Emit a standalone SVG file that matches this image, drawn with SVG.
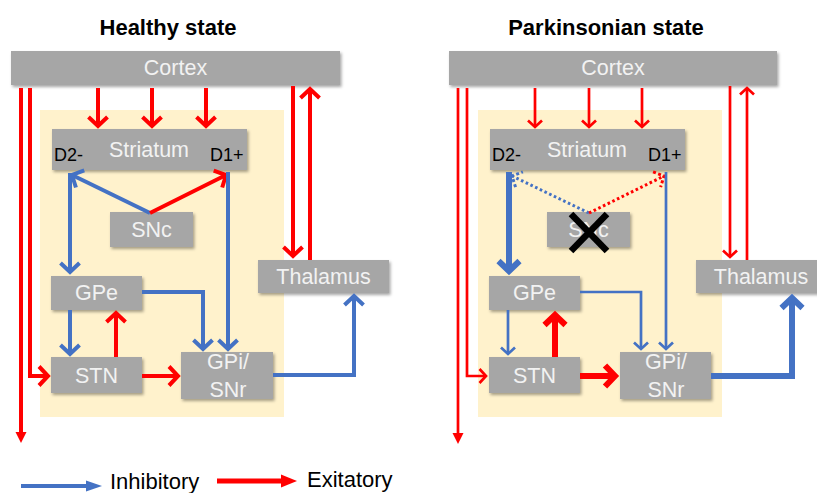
<svg xmlns="http://www.w3.org/2000/svg" width="817" height="493" viewBox="0 0 817 493">
<style>
.bg{fill:#FFF2CC}
.box{fill:#A6A6A6;filter:url(#sh)}
.lbl{font-family:"Liberation Sans",Arial,sans-serif;font-size:21.5px;fill:#F2F2F2;text-anchor:middle}
.dl{font-family:"Liberation Sans",Arial,sans-serif;font-size:18px;fill:#000}
.title{font-family:"Liberation Sans",Arial,sans-serif;font-size:22px;font-weight:bold;fill:#000;text-anchor:middle}
.leg{font-family:"Liberation Sans",Arial,sans-serif;font-size:22px;fill:#000}
.r{fill:none;stroke:#FF0000}
.b{fill:none;stroke:#4472C4}
.w4{stroke-width:4}
.w3{stroke-width:2.7}
.w6{stroke-width:6}
.dot{stroke-width:3;stroke-dasharray:2.6 2.6}
</style>
<defs>
<filter id="sh" x="-10%" y="-10%" width="130%" height="140%">
<feDropShadow dx="1.5" dy="2" stdDeviation="1.5" flood-color="#000" flood-opacity="0.35"/>
</filter>
<marker id="rm" markerUnits="userSpaceOnUse" orient="auto" overflow="visible" markerWidth="1" markerHeight="1"><path d="M-9,-9.5 L0,0 L-9,9.5" fill="none" stroke="#FF0000" stroke-width="4"/></marker>
<marker id="bm" markerUnits="userSpaceOnUse" orient="auto" overflow="visible" markerWidth="1" markerHeight="1"><path d="M-9,-9.5 L0,0 L-9,9.5" fill="none" stroke="#4472C4" stroke-width="4"/></marker>
<marker id="rs" markerUnits="userSpaceOnUse" orient="auto" overflow="visible" markerWidth="1" markerHeight="1"><path d="M-6.5,-7 L0,0 L-6.5,7" fill="none" stroke="#FF0000" stroke-width="2.7"/></marker>
<marker id="bs" markerUnits="userSpaceOnUse" orient="auto" overflow="visible" markerWidth="1" markerHeight="1"><path d="M-6.5,-7 L0,0 L-6.5,7" fill="none" stroke="#4472C4" stroke-width="2.7"/></marker>
<marker id="rl" markerUnits="userSpaceOnUse" orient="auto" overflow="visible" markerWidth="1" markerHeight="1"><path d="M-10,-10.5 L0,0 L-10,10.5" fill="none" stroke="#FF0000" stroke-width="6"/></marker>
<marker id="bl" markerUnits="userSpaceOnUse" orient="auto" overflow="visible" markerWidth="1" markerHeight="1"><path d="M-10,-10.5 L0,0 L-10,10.5" fill="none" stroke="#4472C4" stroke-width="6"/></marker>
<marker id="rd" markerUnits="userSpaceOnUse" orient="auto" overflow="visible" markerWidth="1" markerHeight="1"><path d="M-8,-8.5 L0,0 L-8,8.5" fill="none" stroke="#FF0000" stroke-width="3" stroke-dasharray="3 2.4"/></marker>
<marker id="bd" markerUnits="userSpaceOnUse" orient="auto" overflow="visible" markerWidth="1" markerHeight="1"><path d="M-8,-8.5 L0,0 L-8,8.5" fill="none" stroke="#4472C4" stroke-width="3" stroke-dasharray="3 2.4"/></marker>
<marker id="rt" markerUnits="userSpaceOnUse" orient="auto" overflow="visible" markerWidth="1" markerHeight="1"><path d="M-4,-5.5 L7,0 L-4,5.5 Z" fill="#FF0000"/></marker>
<marker id="rt2" markerUnits="userSpaceOnUse" orient="auto" overflow="visible" markerWidth="1" markerHeight="1"><path d="M-4,-6.5 L12,0 L-4,6.5 Z" fill="#FF0000"/></marker>
<marker id="bt2" markerUnits="userSpaceOnUse" orient="auto" overflow="visible" markerWidth="1" markerHeight="1"><path d="M-4,-5.5 L12,0 L-4,5.5 Z" fill="#4472C4"/></marker>
</defs>
<rect width="817" height="493" fill="#FFFFFF"/>

<text class="title" x="168" y="35">Healthy state</text>
<text class="title" x="606" y="35">Parkinsonian state</text>

<rect class="bg" x="40" y="110" width="244" height="307"/>
<rect class="bg" x="478" y="110" width="244" height="307"/>

<!-- Healthy nodes -->
<g id="h-cortex"><rect class="box" x="11" y="51" width="329" height="34"/><text class="lbl" x="175.5" y="75">Cortex</text></g>
<g id="h-striatum"><rect class="box" x="52" y="129" width="195" height="41"/><text class="lbl" x="149" y="157">Striatum</text><text class="dl" x="54" y="161">D2-</text><text class="dl" x="210" y="161">D1+</text></g>
<g id="h-snc"><rect class="box" x="110" y="212" width="83" height="35"/><text class="lbl" x="151.5" y="237">SNc</text></g>
<g id="h-thalamus"><rect class="box" x="258" y="260" width="131" height="33"/><text class="lbl" x="323.5" y="284">Thalamus</text></g>
<g id="h-gpe"><rect class="box" x="51" y="276" width="91" height="34"/><text class="lbl" x="96.5" y="300">GPe</text></g>
<g id="h-stn"><rect class="box" x="51" y="357" width="91" height="36"/><text class="lbl" x="96.5" y="383">STN</text></g>
<g id="h-gpi"><rect class="box" x="181" y="352" width="92" height="47"/><text class="lbl" x="228" y="369">GPi/</text><text class="lbl" x="228" y="397">SNr</text></g>

<!-- Parkinsonian nodes -->
<g id="p-cortex"><rect class="box" x="449" y="51" width="328" height="34"/><text class="lbl" x="613" y="75">Cortex</text></g>
<g id="p-striatum"><rect class="box" x="490" y="129" width="195" height="41"/><text class="lbl" x="587" y="157">Striatum</text><text class="dl" x="492" y="161">D2-</text><text class="dl" x="648" y="161">D1+</text></g>
<g id="p-snc"><rect class="box" x="547" y="212" width="83" height="35"/><text class="lbl" x="588.5" y="237">SNc</text></g>
<g id="p-thalamus"><rect class="box" x="696" y="260" width="131" height="33"/><text class="lbl" x="761" y="284">Thalamus</text></g>
<g id="p-gpe"><rect class="box" x="489" y="276" width="91" height="34"/><text class="lbl" x="534.5" y="300">GPe</text></g>
<g id="p-stn"><rect class="box" x="489" y="357" width="91" height="36"/><text class="lbl" x="534.5" y="383">STN</text></g>
<g id="p-gpi"><rect class="box" x="620" y="352" width="91" height="47"/><text class="lbl" x="666" y="369">GPi/</text><text class="lbl" x="666" y="397">SNr</text></g>

<g id="connectors">
<!-- healthy -->
<path class="r w4" d="M98,88 V126" marker-end="url(#rm)"/>
<path class="r w4" d="M152,88 V126" marker-end="url(#rm)"/>
<path class="r w4" d="M206,88 V126" marker-end="url(#rm)"/>
<path class="r w4" d="M21,88 V436" marker-end="url(#rt)"/>
<path class="r w4" d="M30,88 V376 H48" marker-end="url(#rm)"/>
<path class="r w4" d="M293,86 V256" marker-end="url(#rm)"/>
<path class="r w4" d="M310,260 V89" marker-end="url(#rm)"/>
<path class="b w4" d="M150,213 L72,175" marker-end="url(#bm)"/>
<path class="r w4" d="M150,213 L226,175" marker-end="url(#rm)"/>
<path class="b w4" d="M70,173 V272" marker-end="url(#bm)"/>
<path class="b w4" d="M228,172 V349" marker-end="url(#bm)"/>
<path class="b w4" d="M142,292 H203 V349" marker-end="url(#bm)"/>
<path class="b w4" d="M70,310 V354" marker-end="url(#bm)"/>
<path class="r w4" d="M116,357 V313" marker-end="url(#rm)"/>
<path class="r w4" d="M142,376 H178" marker-end="url(#rm)"/>
<path class="b w4" d="M273,375 H354 V296" marker-end="url(#bm)"/>
<!-- parkinsonian -->
<path class="r w3" d="M535,88 V127" marker-end="url(#rs)"/>
<path class="r w3" d="M589,88 V127" marker-end="url(#rs)"/>
<path class="r w3" d="M642,88 V127" marker-end="url(#rs)"/>
<path class="r w3" d="M458,88 V437" marker-end="url(#rt)"/>
<path class="r w3" d="M467,88 V376 H486" marker-end="url(#rs)"/>
<path class="r w3" d="M730,86 V257" marker-end="url(#rs)"/>
<path class="r w3" d="M747,260 V88" marker-end="url(#rs)"/>
<path class="b dot" d="M589,213 L512,176" marker-end="url(#bd)"/>
<path class="r dot" d="M589,213 L664,176" marker-end="url(#rd)"/>
<path class="b w6" d="M509,172 V271" marker-end="url(#bl)"/>
<path class="b w3" d="M666,172 V349" marker-end="url(#bs)"/>
<path class="b w3" d="M580,292 H641 V349" marker-end="url(#bs)"/>
<path class="b w3" d="M508,310 V354" marker-end="url(#bs)"/>
<path class="r w6" d="M555,357 V315" marker-end="url(#rl)"/>
<path class="r w6" d="M580,376 H615" marker-end="url(#rl)"/>
<path class="b w6" d="M711,376 H792 V298" marker-end="url(#bl)"/>
</g>

<g id="cross" stroke="#000" stroke-width="6.5">
<line x1="571" y1="214" x2="607" y2="251"/>
<line x1="607" y1="214" x2="571" y2="251"/>
</g>

<g id="legend">
<path class="b w4" d="M21,486 H90" marker-end="url(#bt2)"/>
<text class="leg" x="110" y="488.5">Inhibitory</text>
<path class="r" stroke-width="5" d="M217,481 H285" marker-end="url(#rt2)"/>
<text class="leg" x="307" y="487">Exitatory</text>
</g>
</svg>
